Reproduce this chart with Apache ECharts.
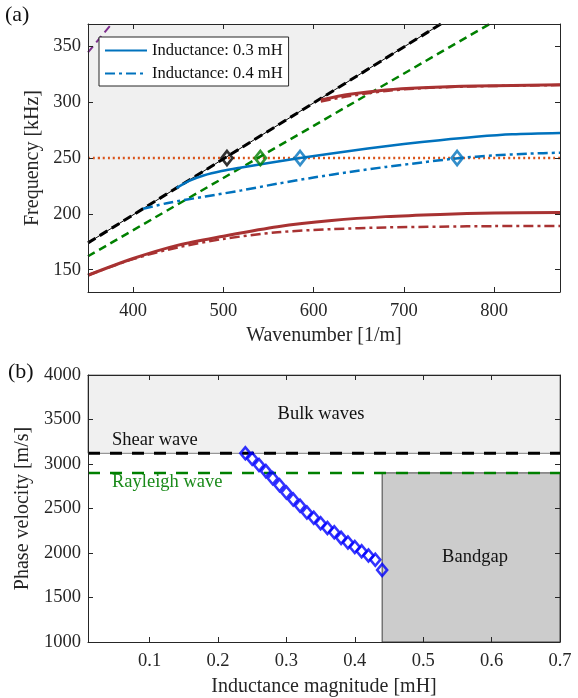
<!DOCTYPE html>
<html>
<head>
<meta charset="utf-8">
<script src="https://cdn.jsdelivr.net/npm/echarts@6/dist/echarts.min.js"></script>
<style>
  html, body { margin: 0; padding: 0; background: #fff; }
  #chart { width: 578px; height: 698px; }
</style>
</head>
<body>
<div id="chart"></div>
<script>
// ---- panel (a): dispersion curves ----
var kTicks = [400, 500, 600, 700, 800];
var fTicks = [150, 200, 250, 300, 350];
var targetFreq = 250;

// sound lines (straight, endpoints)
var shearLine = [[350, 174], [741, 370]];
var rayleighLine = [[350, 162], [795, 370]];
var longLine = [[350, 344.5], [376, 370]];

// 0.3 mH (solid) / 0.4 mH (dash-dot)
var blue03 = [[448, 223], [462, 229.5], [478, 234.3], [498, 238.3], [520, 241.5], [550, 245.5], [585, 250], [620, 254], [660, 258.5], [700, 262.5], [740, 266], [780, 269], [820, 271.2], [873, 272.4]];
var blue04 = [[411, 204.5], [440, 210], [480, 215.5], [520, 221], [560, 227], [600, 232.5], [640, 237.5], [680, 242], [720, 246], [760, 249.8], [800, 252.3], [840, 254], [873, 254.7]];
var redLow03 = [[350, 145], [400, 160], [450, 172], [500, 180], [560, 188.5], [620, 194], [680, 197.5], [740, 199.5], [800, 200.7], [873, 201.3]];
var redLow04 = [[350, 145], [400, 159.5], [450, 170], [500, 177.5], [560, 183.5], [620, 186.3], [680, 187.8], [740, 188.5], [800, 189], [873, 189.2]];
var redUp03 = [[608, 302], [640, 307], [680, 311], [720, 313], [780, 314.5], [873, 315.5]];
var redUp04 = [[608, 300.5], [640, 305.5], [680, 310], [720, 312.5], [780, 314.2], [873, 315.3]];

var markBlack = [[504, 250]];
var markGreen = [[541, 250]];
var markBlue = [[585, 250], [759, 250]];

// ---- panel (b): phase velocity vs inductance ----
var lTicks = [0.1, 0.2, 0.3, 0.4, 0.5, 0.6, 0.7];
var vTicks = [1000, 1500, 2000, 2500, 3000, 3500, 4000];
var inductance = [0.24, 0.25, 0.26, 0.27, 0.28, 0.29, 0.30, 0.31, 0.32, 0.33, 0.34, 0.35, 0.36, 0.37, 0.38, 0.39, 0.40, 0.41, 0.42, 0.43, 0.44];
var phaseVel = [3120, 3060, 2990, 2920, 2840, 2760, 2680, 2600, 2530, 2455, 2395, 2335, 2282, 2232, 2170, 2118, 2068, 2020, 1972, 1923, 1810];
var shearSpeed = 3120;
var rayleighSpeed = 2900;
var bandgapStart = 0.44;

var serif = 'Liberation Serif';
var axCol = '#262626';
var blue = '#0072BD', red = '#A83232', green = '#008000';

function pairs(xs, ys) {
  return xs.map(function (x, i) { return [x, ys[i]]; });
}
function plain(v) { return String(v); }

function mainX(grid, min, max, ticks, name, gap) {
  return {
    type: 'value', gridIndex: grid, min: min, max: max, z: 10,
    name: name, nameLocation: 'middle', nameGap: gap,
    nameTextStyle: { fontFamily: serif, fontSize: 20, color: axCol },
    splitLine: { show: false },
    axisLine: { lineStyle: { color: axCol, width: 1 } },
    axisTick: { inside: true, length: 5, customValues: ticks, lineStyle: { color: axCol } },
    axisLabel: { customValues: ticks, margin: 10, fontFamily: serif, fontSize: 18.5, color: axCol, formatter: plain }
  };
}
function mirrorX(grid, min, max, ticks) {
  return {
    type: 'value', gridIndex: grid, position: 'top', min: min, max: max, z: 10,
    splitLine: { show: false },
    axisLine: { lineStyle: { color: axCol, width: 1 } },
    axisTick: { inside: true, length: 5, customValues: ticks, lineStyle: { color: axCol } },
    axisLabel: { show: false }
  };
}
function mainY(grid, min, max, ticks, name, gap) {
  return {
    type: 'value', gridIndex: grid, min: min, max: max, z: 10,
    name: name, nameLocation: 'middle', nameGap: gap,
    nameTextStyle: { fontFamily: serif, fontSize: 20, color: axCol },
    splitLine: { show: false },
    axisLine: { show: true, lineStyle: { color: axCol, width: 1 } },
    axisTick: { show: true, inside: true, length: 5, customValues: ticks, lineStyle: { color: axCol } },
    axisLabel: { customValues: ticks, margin: 7, fontFamily: serif, fontSize: 18.5, color: axCol, formatter: plain }
  };
}
function mirrorY(grid, min, max, ticks) {
  return {
    type: 'value', gridIndex: grid, position: 'right', min: min, max: max, z: 10,
    splitLine: { show: false },
    axisLine: { show: true, lineStyle: { color: axCol, width: 1 } },
    axisTick: { show: true, inside: true, length: 5, customValues: ticks, lineStyle: { color: axCol } },
    axisLabel: { show: false }
  };
}

function curve(name, data, color, width, type, z) {
  return {
    name: name, type: 'line', xAxisIndex: 0, yAxisIndex: 0, data: data,
    smooth: 0.3, symbol: 'none', z: z || 4, silent: true,
    lineStyle: { color: color, width: width, type: type },
    itemStyle: { color: color }
  };
}
function diamonds(data, color, xi, yi, size, bw) {
  return {
    type: 'scatter', xAxisIndex: xi, yAxisIndex: yi, data: data,
    symbol: 'diamond', symbolSize: size, z: 8, silent: true,
    itemStyle: { color: 'rgba(0,0,0,0)', borderColor: color, borderWidth: bw }
  };
}

var chart = echarts.init(document.getElementById('chart'), null, { renderer: 'canvas' });
var dashDot = [10, 4, 3, 4];

chart.setOption({
  animation: false,
  backgroundColor: '#fff',
  grid: [
    { left: 88, top: 24, width: 472, height: 268 },
    { left: 88, top: 375, width: 472, height: 269 }
  ],
  xAxis: [
    mainX(0, 350, 873, kTicks, 'Wavenumber [1/m]', 34),
    mirrorX(0, 350, 873, kTicks),
    mainX(1, 0.01, 0.7, lTicks, 'Inductance magnitude [mH]', 35),
    mirrorX(1, 0.01, 0.7, lTicks)
  ],
  yAxis: [
    mainY(0, 130, 370, fTicks, 'Frequency [kHz]', 31),
    mirrorY(0, 130, 370, fTicks),
    mainY(1, 1000, 4000, vTicks, 'Phase velocity [m/s]', 44),
    mirrorY(1, 1000, 4000, vTicks)
  ],
  legend: {
    data: ['Inductance: 0.3 mH', 'Inductance: 0.4 mH'],
    orient: 'vertical', left: 99, top: 37,
    padding: [5, 6, 4, 5], itemGap: 6, itemWidth: 42, itemHeight: 14,
    backgroundColor: '#fff', borderColor: axCol, borderWidth: 1, borderRadius: 0,
    itemStyle: { opacity: 0 },
    textStyle: { fontFamily: serif, fontSize: 16.5, color: '#111' },
    selectedMode: false
  },
  graphic: [
    { type: 'text', left: 5, top: 4, style: { text: '(a)', font: '22px "Liberation Serif"', fill: '#111' } },
    { type: 'text', left: 8, top: 361, style: { text: '(b)', font: '22px "Liberation Serif"', fill: '#111' } },
    { type: 'text', x: 321, y: 414, style: { text: 'Bulk waves', font: '18.5px "Liberation Serif"', fill: '#111', align: 'center', verticalAlign: 'middle' }, z: 20 },
    { type: 'text', x: 112, y: 440, style: { text: 'Shear wave', font: '18.5px "Liberation Serif"', fill: '#111', verticalAlign: 'middle' }, z: 20 },
    { type: 'text', x: 112, y: 482, style: { text: 'Rayleigh wave', font: '18.5px "Liberation Serif"', fill: '#1a8a1a', verticalAlign: 'middle' }, z: 20 },
    { type: 'text', x: 475, y: 557, style: { text: 'Bandgap', font: '18.5px "Liberation Serif"', fill: '#111', align: 'center', verticalAlign: 'middle' }, z: 20 }
  ],
  series: [
    // (a) region above the shear sound line
    {
      type: 'line', xAxisIndex: 0, yAxisIndex: 0, data: shearLine, symbol: 'none', z: 1, silent: true,
      lineStyle: { color: '#000', width: 1 },
      areaStyle: { color: '#f0f0f0', opacity: 1, origin: 'end' }
    },
    curve(null, [[350, targetFreq], [873, targetFreq]], '#D95319', 2.5, [2, 3], 2),
    curve(null, rayleighLine, green, 2.5, [8, 5], 3),
    curve(null, shearLine, '#000', 3, [9, 5], 3),
    curve(null, longLine, '#7E2F8E', 2, [8, 5], 3),
    curve('Inductance: 0.3 mH', blue03, blue, 2.5, 'solid', 5),
    curve('Inductance: 0.4 mH', blue04, blue, 2.5, dashDot, 5),
    curve(null, redLow03, red, 3, 'solid', 4),
    curve(null, redLow04, red, 2.5, dashDot, 4),
    curve(null, redUp04, red, 2.5, dashDot, 4),
    curve(null, redUp03, red, 3, 'solid', 4),
    diamonds(markBlack, '#000', 0, 0, [11, 14], 2.8),
    diamonds(markGreen, green, 0, 0, [11, 14], 2.8),
    diamonds(markBlue, blue, 0, 0, [11, 14], 2.8),

    // (b) shaded regions
    {
      type: 'line', xAxisIndex: 2, yAxisIndex: 2, data: [], z: 1, silent: true,
      markArea: {
        silent: true,
        data: [
          [{ yAxis: shearSpeed, itemStyle: { color: '#f0f0f0', borderColor: '#808080', borderWidth: 1 } }, { yAxis: 4000 }],
          [{ xAxis: bandgapStart, yAxis: 1000, itemStyle: { color: '#cccccc', borderColor: '#404040', borderWidth: 1 } }, { xAxis: 0.7, yAxis: rayleighSpeed }]
        ]
      }
    },
    {
      type: 'line', xAxisIndex: 2, yAxisIndex: 2, data: [[0.01, shearSpeed], [0.7, shearSpeed]],
      symbol: 'none', z: 3, silent: true, lineStyle: { color: '#000', width: 3, type: [12, 10] }
    },
    {
      type: 'line', xAxisIndex: 2, yAxisIndex: 2, data: [[0.01, rayleighSpeed], [0.7, rayleighSpeed]],
      symbol: 'none', z: 3, silent: true, lineStyle: { color: green, width: 2.5, type: [12, 10] }
    },
    diamonds(pairs(inductance, phaseVel), '#0000FF', 2, 2, [10, 12], 2.6)
  ]
});
</script>
</body>
</html>
